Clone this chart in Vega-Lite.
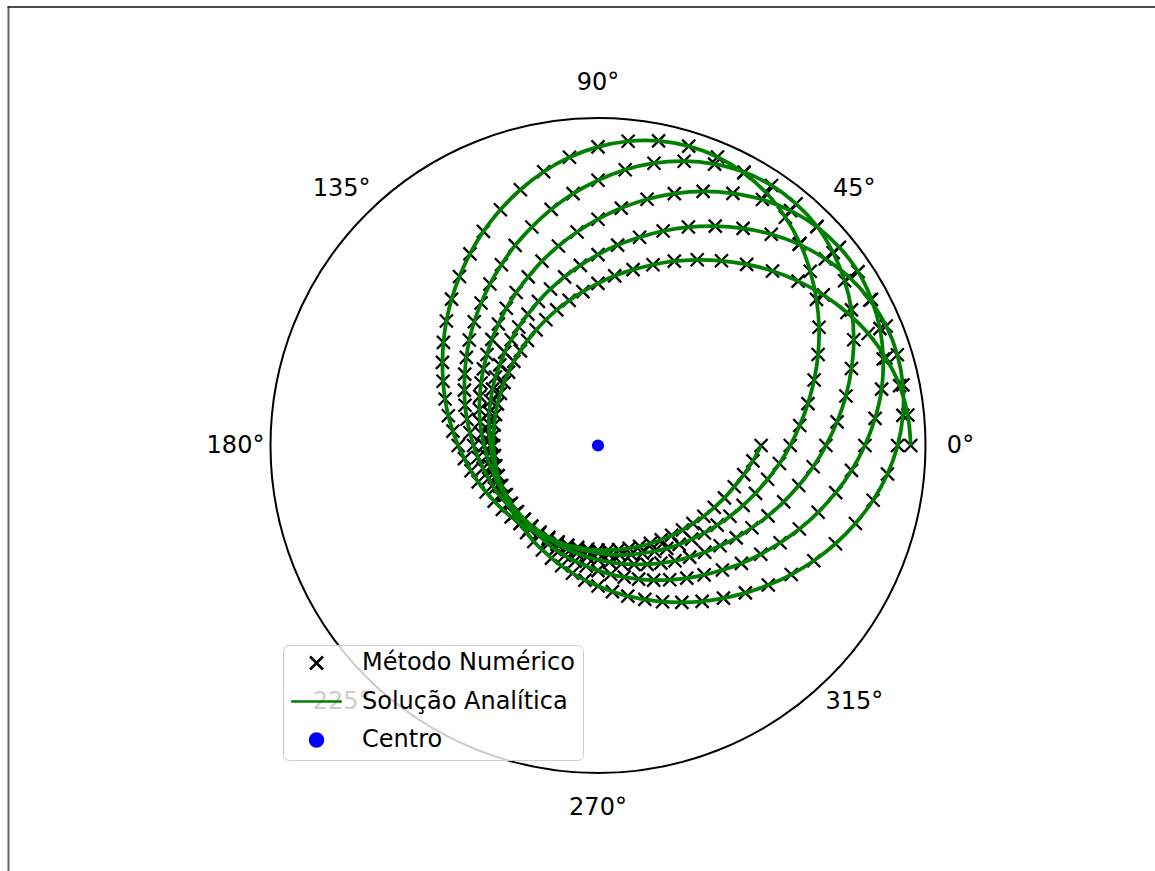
{
"$schema": "https://vega.github.io/schema/vega-lite/v6.json",
"width": 655, "height": 655,
"autosize": {"type": "none"},
"padding": {"left": 270.5, "top": 118, "right": 229.5, "bottom": 98},
"background": "white",
"config": {
  "view": {"stroke": null},
  "font": "DejaVu Sans",
  "legend": {"orient": "none", "legendX": 12.5, "legendY": 527, "fillColor": "rgba(255,255,255,0.8)", "strokeColor": "#cccccc", "cornerRadius": 6, "padding": 8, "labelFont": "DejaVu Sans", "labelFontSize": 24, "labelColor": "black", "labelOffset": 33.5, "symbolOffset": 13.5, "labelLimit": 500, "symbolSize": 169, "clipHeight": 20, "rowPadding": 14.5, "symbolStrokeWidth": 2.5, "symbolOpacity": 1}
},
"datasets": {
  "centro": [{"x": 0, "y": 0}],
  "rotulos": [
    {"angle": 0, "label": "0°"}, {"angle": 45, "label": "45°"}, {"angle": 90, "label": "90°"}, {"angle": 135, "label": "135°"},
    {"angle": 180, "label": "180°"}, {"angle": 225, "label": "225°"}, {"angle": 270, "label": "270°"}, {"angle": 315, "label": "315°"}
  ],
  "traj": [
{"i":0,"x":0.955,"y":0},{"i":1,"x":0.946,"y":0.093},{"i":2,"x":0.921,"y":0.183},{"i":3,"x":0.879,"y":0.267},{"i":4,"x":0.825,"y":0.342},{"i":5,"x":0.760,"y":0.406},{"i":6,"x":0.688,"y":0.460},{"i":7,"x":0.611,"y":0.502},
{"i":8,"x":0.533,"y":0.533},{"i":9,"x":0.454,"y":0.553},{"i":10,"x":0.377,"y":0.564},{"i":11,"x":0.303,"y":0.567},{"i":12,"x":0.233,"y":0.563},{"i":13,"x":0.168,"y":0.552},{"i":14,"x":0.107,"y":0.537},{"i":15,"x":0.051,"y":0.518},
{"i":16,"x":0,"y":0.495},{"i":17,"x":-0.046,"y":0.470},{"i":18,"x":-0.088,"y":0.443},{"i":19,"x":-0.126,"y":0.414},{"i":20,"x":-0.159,"y":0.384},{"i":21,"x":-0.189,"y":0.353},{"i":22,"x":-0.215,"y":0.321},{"i":23,"x":-0.237,"y":0.289},
{"i":24,"x":-0.257,"y":0.257},{"i":25,"x":-0.273,"y":0.224},{"i":26,"x":-0.287,"y":0.192},{"i":27,"x":-0.298,"y":0.159},{"i":28,"x":-0.307,"y":0.127},{"i":29,"x":-0.313,"y":0.095},{"i":30,"x":-0.317,"y":0.063},{"i":31,"x":-0.319,"y":0.031},
{"i":32,"x":-0.319,"y":0},{"i":33,"x":-0.316,"y":-0.031},{"i":34,"x":-0.312,"y":-0.062},{"i":35,"x":-0.305,"y":-0.092},{"i":36,"x":-0.296,"y":-0.123},{"i":37,"x":-0.285,"y":-0.152},{"i":38,"x":-0.272,"y":-0.182},{"i":39,"x":-0.256,"y":-0.210},
{"i":40,"x":-0.238,"y":-0.238},{"i":41,"x":-0.218,"y":-0.266},{"i":42,"x":-0.196,"y":-0.293},{"i":43,"x":-0.170,"y":-0.319},{"i":44,"x":-0.142,"y":-0.344},{"i":45,"x":-0.111,"y":-0.367},{"i":46,"x":-0.078,"y":-0.390},{"i":47,"x":-0.040,"y":-0.411},
{"i":48,"x":0,"y":-0.429},{"i":49,"x":0.044,"y":-0.446},{"i":50,"x":0.091,"y":-0.460},{"i":51,"x":0.143,"y":-0.470},{"i":52,"x":0.197,"y":-0.477},{"i":53,"x":0.256,"y":-0.479},{"i":54,"x":0.318,"y":-0.476},{"i":55,"x":0.383,"y":-0.466},
{"i":56,"x":0.450,"y":-0.450},{"i":57,"x":0.520,"y":-0.426},{"i":58,"x":0.590,"y":-0.394},{"i":59,"x":0.659,"y":-0.352},{"i":60,"x":0.725,"y":-0.300},{"i":61,"x":0.786,"y":-0.238},{"i":62,"x":0.840,"y":-0.167},{"i":63,"x":0.884,"y":-0.087},
{"i":64,"x":0.915,"y":0},{"i":65,"x":0.931,"y":0.092},{"i":66,"x":0.931,"y":0.185},{"i":67,"x":0.914,"y":0.277},{"i":68,"x":0.880,"y":0.365},{"i":69,"x":0.830,"y":0.444},{"i":70,"x":0.768,"y":0.513},{"i":71,"x":0.694,"y":0.570},
{"i":72,"x":0.614,"y":0.614},{"i":73,"x":0.529,"y":0.645},{"i":74,"x":0.443,"y":0.663},{"i":75,"x":0.358,"y":0.670},{"i":76,"x":0.276,"y":0.667},{"i":77,"x":0.199,"y":0.655},{"i":78,"x":0.127,"y":0.636},{"i":79,"x":0.060,"y":0.612},
{"i":80,"x":0,"y":0.583},{"i":81,"x":-0.054,"y":0.550},{"i":82,"x":-0.102,"y":0.515},{"i":83,"x":-0.145,"y":0.478},{"i":84,"x":-0.182,"y":0.440},{"i":85,"x":-0.214,"y":0.401},{"i":86,"x":-0.242,"y":0.362},{"i":87,"x":-0.265,"y":0.323},
{"i":88,"x":-0.285,"y":0.285},{"i":89,"x":-0.300,"y":0.246},{"i":90,"x":-0.313,"y":0.209},{"i":91,"x":-0.322,"y":0.172},{"i":92,"x":-0.328,"y":0.136},{"i":93,"x":-0.332,"y":0.101},{"i":94,"x":-0.333,"y":0.066},{"i":95,"x":-0.332,"y":0.033},
{"i":96,"x":-0.328,"y":0},{"i":97,"x":-0.323,"y":-0.032},{"i":98,"x":-0.315,"y":-0.063},{"i":99,"x":-0.305,"y":-0.093},{"i":100,"x":-0.294,"y":-0.122},{"i":101,"x":-0.280,"y":-0.150},{"i":102,"x":-0.265,"y":-0.177},{"i":103,"x":-0.247,"y":-0.203},
{"i":104,"x":-0.228,"y":-0.228},{"i":105,"x":-0.207,"y":-0.252},{"i":106,"x":-0.183,"y":-0.273},{"i":107,"x":-0.158,"y":-0.296},{"i":108,"x":-0.131,"y":-0.317},{"i":109,"x":-0.102,"y":-0.336},{"i":110,"x":-0.070,"y":-0.353},{"i":111,"x":-0.036,"y":-0.368},
{"i":112,"x":0,"y":-0.382},{"i":113,"x":0.039,"y":-0.393},{"i":114,"x":0.080,"y":-0.402},{"i":115,"x":0.124,"y":-0.408},{"i":116,"x":0.170,"y":-0.411},{"i":117,"x":0.219,"y":-0.410},{"i":118,"x":0.271,"y":-0.405},{"i":119,"x":0.324,"y":-0.395},
{"i":120,"x":0.380,"y":-0.380},{"i":121,"x":0.438,"y":-0.360},{"i":122,"x":0.497,"y":-0.332},{"i":123,"x":0.556,"y":-0.297},{"i":124,"x":0.615,"y":-0.255},{"i":125,"x":0.672,"y":-0.204},{"i":126,"x":0.726,"y":-0.144},{"i":127,"x":0.774,"y":-0.076},
{"i":128,"x":0.815,"y":0},{"i":129,"x":0.846,"y":0.083},{"i":130,"x":0.866,"y":0.172},{"i":131,"x":0.871,"y":0.264},{"i":132,"x":0.861,"y":0.357},{"i":133,"x":0.835,"y":0.446},{"i":134,"x":0.794,"y":0.531},{"i":135,"x":0.737,"y":0.605},
{"i":136,"x":0.668,"y":0.668},{"i":137,"x":0.588,"y":0.717},{"i":138,"x":0.502,"y":0.751},{"i":139,"x":0.412,"y":0.770},{"i":140,"x":0.321,"y":0.776},{"i":141,"x":0.233,"y":0.769},{"i":142,"x":0.150,"y":0.752},{"i":143,"x":0.071,"y":0.725},
{"i":144,"x":0,"y":0.691},{"i":145,"x":-0.064,"y":0.652},{"i":146,"x":-0.121,"y":0.609},{"i":147,"x":-0.171,"y":0.563},{"i":148,"x":-0.213,"y":0.515},{"i":149,"x":-0.250,"y":0.467},{"i":150,"x":-0.280,"y":0.419},{"i":151,"x":-0.304,"y":0.371},
{"i":152,"x":-0.324,"y":0.324},{"i":153,"x":-0.339,"y":0.278},{"i":154,"x":-0.350,"y":0.234},{"i":155,"x":-0.357,"y":0.191},{"i":156,"x":-0.361,"y":0.150},{"i":157,"x":-0.362,"y":0.110},{"i":158,"x":-0.360,"y":0.072},{"i":159,"x":-0.355,"y":0.035},
{"i":160,"x":-0.348,"y":0},{"i":161,"x":-0.339,"y":-0.033},{"i":162,"x":-0.328,"y":-0.065},{"i":163,"x":-0.315,"y":-0.096},{"i":164,"x":-0.300,"y":-0.124},{"i":165,"x":-0.284,"y":-0.152},{"i":166,"x":-0.265,"y":-0.177},{"i":167,"x":-0.246,"y":-0.202},
{"i":168,"x":-0.225,"y":-0.225},{"i":169,"x":-0.202,"y":-0.246},{"i":170,"x":-0.178,"y":-0.266},{"i":171,"x":-0.152,"y":-0.284},{"i":172,"x":-0.125,"y":-0.301},{"i":173,"x":-0.096,"y":-0.316},{"i":174,"x":-0.065,"y":-0.329},{"i":175,"x":-0.033,"y":-0.340},
{"i":176,"x":0,"y":-0.349},{"i":177,"x":0.035,"y":-0.356},{"i":178,"x":0.072,"y":-0.361},{"i":179,"x":0.110,"y":-0.363},{"i":180,"x":0.150,"y":-0.363},{"i":181,"x":0.192,"y":-0.359},{"i":182,"x":0.235,"y":-0.352},{"i":183,"x":0.280,"y":-0.341},
{"i":184,"x":0.326,"y":-0.326},{"i":185,"x":0.373,"y":-0.306},{"i":186,"x":0.422,"y":-0.282},{"i":187,"x":0.470,"y":-0.251},{"i":188,"x":0.519,"y":-0.215},{"i":189,"x":0.567,"y":-0.172},{"i":190,"x":0.613,"y":-0.122},{"i":191,"x":0.657,"y":-0.065},
{"i":192,"x":0.696,"y":0},{"i":193,"x":0.730,"y":0.072},{"i":194,"x":0.757,"y":0.151},{"i":195,"x":0.774,"y":0.235},{"i":196,"x":0.781,"y":0.323},{"i":197,"x":0.774,"y":0.414},{"i":198,"x":0.753,"y":0.503},{"i":199,"x":0.718,"y":0.589},
{"i":200,"x":0.669,"y":0.669},{"i":201,"x":0.605,"y":0.738},{"i":202,"x":0.530,"y":0.794},{"i":203,"x":0.446,"y":0.835},{"i":204,"x":0.356,"y":0.859},{"i":205,"x":0.263,"y":0.868},{"i":206,"x":0.171,"y":0.862},{"i":207,"x":0.083,"y":0.842},
{"i":208,"x":0,"y":0.810},{"i":209,"x":-0.076,"y":0.769},{"i":210,"x":-0.143,"y":0.721},{"i":211,"x":-0.202,"y":0.667},{"i":212,"x":-0.253,"y":0.611},{"i":213,"x":-0.295,"y":0.552},{"i":214,"x":-0.330,"y":0.493},{"i":215,"x":-0.357,"y":0.435},
{"i":216,"x":-0.378,"y":0.378},{"i":217,"x":-0.393,"y":0.322},{"i":218,"x":-0.402,"y":0.269},{"i":219,"x":-0.407,"y":0.218},{"i":220,"x":-0.408,"y":0.169},{"i":221,"x":-0.406,"y":0.123},{"i":222,"x":-0.400,"y":0.080},{"i":223,"x":-0.391,"y":0.039},
{"i":224,"x":-0.380,"y":0},{"i":225,"x":-0.367,"y":-0.036},{"i":226,"x":-0.351,"y":-0.070},{"i":227,"x":-0.334,"y":-0.101},{"i":228,"x":-0.316,"y":-0.131},{"i":229,"x":-0.296,"y":-0.158},{"i":230,"x":-0.274,"y":-0.183},{"i":231,"x":-0.252,"y":-0.206},
{"i":232,"x":-0.228,"y":-0.228},{"i":233,"x":-0.203,"y":-0.247},{"i":234,"x":-0.177,"y":-0.264},{"i":235,"x":-0.150,"y":-0.280},{"i":236,"x":-0.122,"y":-0.294},{"i":237,"x":-0.093,"y":-0.305},{"i":238,"x":-0.063,"y":-0.315},{"i":239,"x":-0.032,"y":-0.323},
{"i":240,"x":0,"y":-0.329},{"i":241,"x":0.033,"y":-0.333},{"i":242,"x":0.066,"y":-0.334},{"i":243,"x":0.101,"y":-0.333},{"i":244,"x":0.136,"y":-0.329},{"i":245,"x":0.173,"y":-0.323},{"i":246,"x":0.210,"y":-0.314},{"i":247,"x":0.248,"y":-0.302},
{"i":248,"x":0.286,"y":-0.286},{"i":249,"x":0.325,"y":-0.267},{"i":250,"x":0.364,"y":-0.243},{"i":251,"x":0.403,"y":-0.216},{"i":252,"x":0.443,"y":-0.183},{"i":253,"x":0.481,"y":-0.146},{"i":254,"x":0.518,"y":-0.103},{"i":255,"x":0.554,"y":-0.055},
{"i":256,"x":0.587,"y":0},{"i":257,"x":0.616,"y":0.061},{"i":258,"x":0.641,"y":0.128},{"i":259,"x":0.660,"y":0.200},{"i":260,"x":0.672,"y":0.278},{"i":261,"x":0.675,"y":0.361},{"i":262,"x":0.667,"y":0.446},{"i":263,"x":0.648,"y":0.532},
{"i":264,"x":0.617,"y":0.617},{"i":265,"x":0.572,"y":0.697},{"i":266,"x":0.515,"y":0.770},{"i":267,"x":0.445,"y":0.832},{"i":268,"x":0.365,"y":0.881},{"i":269,"x":0.277,"y":0.914},{"i":270,"x":0.185,"y":0.930},{"i":271,"x":0.092,"y":0.929},
{"i":272,"x":0,"y":0.912},{"i":273,"x":-0.087,"y":0.880},{"i":274,"x":-0.166,"y":0.836},{"i":275,"x":-0.237,"y":0.781},{"i":276,"x":-0.298,"y":0.720},{"i":277,"x":-0.350,"y":0.654},{"i":278,"x":-0.391,"y":0.585},{"i":279,"x":-0.423,"y":0.516},
{"i":280,"x":-0.447,"y":0.447},{"i":281,"x":-0.463,"y":0.380},{"i":282,"x":-0.472,"y":0.315},{"i":283,"x":-0.475,"y":0.254},{"i":284,"x":-0.473,"y":0.196},{"i":285,"x":-0.467,"y":0.142},{"i":286,"x":-0.457,"y":0.091},{"i":287,"x":-0.443,"y":0.044},
{"i":288,"x":-0.427,"y":0},{"i":289,"x":-0.408,"y":-0.040},{"i":290,"x":-0.388,"y":-0.077},{"i":291,"x":-0.366,"y":-0.111},{"i":292,"x":-0.342,"y":-0.142},{"i":293,"x":-0.317,"y":-0.170},{"i":294,"x":-0.292,"y":-0.195},{"i":295,"x":-0.265,"y":-0.218},
{"i":296,"x":-0.238,"y":-0.238},{"i":297,"x":-0.210,"y":-0.256},{"i":298,"x":-0.181,"y":-0.271},{"i":299,"x":-0.152,"y":-0.285},{"i":300,"x":-0.122,"y":-0.296},{"i":301,"x":-0.092,"y":-0.305},{"i":302,"x":-0.062,"y":-0.311},{"i":303,"x":-0.031,"y":-0.316},
{"i":304,"x":0,"y":-0.319},{"i":305,"x":0.031,"y":-0.319},{"i":306,"x":0.063,"y":-0.318},{"i":307,"x":0.095,"y":-0.314},{"i":308,"x":0.127,"y":-0.308},{"i":309,"x":0.160,"y":-0.299},{"i":310,"x":0.193,"y":-0.288},{"i":311,"x":0.225,"y":-0.274},
{"i":312,"x":0.258,"y":-0.258},{"i":313,"x":0.290,"y":-0.238},{"i":314,"x":0.323,"y":-0.216},{"i":315,"x":0.355,"y":-0.189},{"i":316,"x":0.386,"y":-0.160},{"i":317,"x":0.416,"y":-0.126},{"i":318,"x":0.445,"y":-0.089},{"i":319,"x":0.473,"y":-0.047},
{"i":320,"x":0.498,"y":0}
  ]
},
"layer": [
  {
    "data": {"name": "centro"},
    "mark": {"type": "point", "shape": "circle", "size": 429025, "filled": false, "stroke": "black", "strokeWidth": 2, "opacity": 1},
    "encoding": {
      "x": {"field": "x", "type": "quantitative", "scale": {"domain": [-1, 1], "nice": false, "zero": false}, "axis": null},
      "y": {"field": "y", "type": "quantitative", "scale": {"domain": [-1, 1], "nice": false, "zero": false}, "axis": null}
    }
  },
  {
    "data": {"name": "rotulos"},
    "mark": {"type": "text", "font": "DejaVu Sans", "fontSize": 24, "color": "black", "align": "center", "baseline": "middle"},
    "encoding": {
      "theta": {"field": "angle", "type": "quantitative", "scale": {"type": "linear", "domain": [0, 360], "range": [1.5707963, -4.712389], "zero": false, "nice": false}},
      "radius": {"value": 362.5},
      "text": {"field": "label"}
    }
  },
  {
    "data": {"values": [{}]},
    "mark": {"type": "rule", "color": "#666666", "strokeWidth": 2},
    "encoding": {"x": {"datum": -1.8}, "y": {"datum": 1.339}, "y2": {"datum": -1.31}}
  },
  {
    "data": {"values": [{}]},
    "mark": {"type": "rule", "color": "#111111", "strokeWidth": 1.5},
    "encoding": {"x": {"datum": -1.803}, "x2": {"datum": 1.71}, "y": {"datum": 1.339}}
  },
  {
    "data": {"name": "traj"},
    "mark": {"type": "point", "shape": "M-1,-1L1,1M-1,1L1,-1", "size": 169, "filled": false, "strokeWidth": 2.3, "opacity": 1},
    "encoding": {
      "x": {"field": "x", "type": "quantitative"},
      "y": {"field": "y", "type": "quantitative"},
      "color": {"datum": "Método Numérico", "scale": {"domain": ["Método Numérico", "Solução Analítica", "Centro"], "range": ["black", "green", "blue"]},
        "legend": {"title": null}},
      "shape": {"datum": "Método Numérico", "scale": {"domain": ["Método Numérico", "Solução Analítica", "Centro"], "range": ["M-1,-1L1,1M-1,1L1,-1", "M-3.9,0L3.9,0", "circle"]},
        "legend": {"title": null}}
    }
  },
  {
    "data": {"name": "traj"},
    "mark": {"type": "line", "strokeWidth": 3.75, "interpolate": "catmull-rom", "opacity": 1},
    "encoding": {
      "x": {"field": "x", "type": "quantitative"},
      "y": {"field": "y", "type": "quantitative"},
      "order": {"field": "i", "type": "quantitative"},
      "color": {"datum": "Solução Analítica"}
    }
  },
  {
    "data": {"name": "centro"},
    "mark": {"type": "point", "shape": "circle", "size": 150, "filled": true, "opacity": 1},
    "encoding": {
      "x": {"field": "x", "type": "quantitative"},
      "y": {"field": "y", "type": "quantitative"},
      "color": {"datum": "Centro"},
      "shape": {"datum": "Centro"}
    }
  }
]
}
